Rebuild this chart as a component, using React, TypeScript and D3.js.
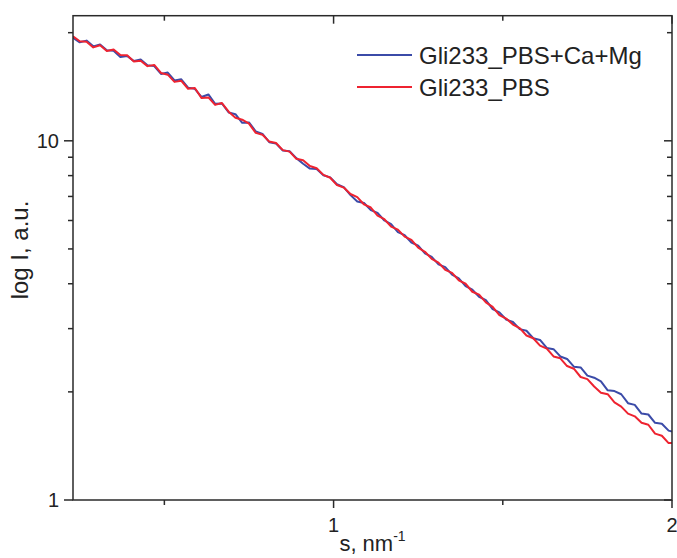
import * as d3 from "d3";

// scattering vector s, nm^-1
const sValues = [
  0.23, 0.25, 0.27, 0.29, 0.31, 0.33, 0.35, 0.37, 0.39, 0.41,
  0.43, 0.45, 0.47, 0.49, 0.51, 0.53, 0.55, 0.57, 0.59, 0.61,
  0.63, 0.65, 0.67, 0.69, 0.71, 0.73, 0.75, 0.77, 0.79, 0.81,
  0.83, 0.85, 0.87, 0.89, 0.91, 0.93, 0.95, 0.97, 0.99, 1.01,
  1.03, 1.05, 1.07, 1.09, 1.11, 1.13, 1.15, 1.17, 1.19, 1.21,
  1.23, 1.25, 1.27, 1.29, 1.31, 1.33, 1.35, 1.37, 1.39, 1.41,
  1.43, 1.45, 1.47, 1.49, 1.51, 1.53, 1.55, 1.57, 1.59, 1.61,
  1.63, 1.65, 1.67, 1.69, 1.71, 1.73, 1.75, 1.77, 1.79, 1.81,
  1.83, 1.85, 1.87, 1.89, 1.91, 1.93, 1.95, 1.97, 1.99, 2.0,
];

// Gli233_PBS+Ca+Mg
const caMgValues = [
  19.37, 18.8, 19.01, 18.32, 18.54, 17.87, 17.82, 17.1, 17.22, 16.67,
  16.83, 16.22, 16.14, 15.35, 15.49, 14.72, 14.83, 14.06, 13.96, 13.24,
  13.46, 12.68, 12.71, 11.99, 11.86, 11.22, 11.25, 10.62, 10.45, 9.91,
  9.82, 9.4, 9.35, 8.95, 8.63, 8.37, 8.35, 8.02, 7.91, 7.57,
  7.43, 7.06, 6.78, 6.71, 6.41, 6.3, 6.0, 5.86, 5.57, 5.46,
  5.21, 5.11, 4.86, 4.75, 4.53, 4.45, 4.24, 4.14, 3.94, 3.85,
  3.68, 3.6, 3.4, 3.33, 3.18, 3.13, 2.99, 2.96, 2.82, 2.79,
  2.65, 2.63, 2.51, 2.47, 2.35, 2.34, 2.22, 2.19, 2.14, 2.02,
  2.01, 1.97, 1.86, 1.84, 1.74, 1.73, 1.64, 1.63, 1.56, 1.55,
];

// Gli233_PBS
const pbsValues = [
  19.54, 18.93, 18.88, 18.2, 18.45, 17.78, 17.95, 17.34, 17.3, 16.63,
  16.71, 16.14, 16.26, 15.45, 15.28, 14.59, 14.69, 13.96, 14.03, 13.15,
  13.21, 12.59, 12.74, 12.05, 11.59, 11.45, 11.17, 10.52, 10.4, 9.95,
  9.86, 9.42, 9.33, 8.91, 8.83, 8.51, 8.39, 8.04, 7.89, 7.53,
  7.41, 7.11, 6.97, 6.65, 6.52, 6.19, 6.05, 5.77, 5.66, 5.41,
  5.3, 5.04, 4.91, 4.69, 4.58, 4.37, 4.29, 4.09, 4.0, 3.8,
  3.73, 3.55, 3.45, 3.27, 3.2, 3.08, 3.01, 2.87, 2.82, 2.69,
  2.64, 2.51, 2.48, 2.36, 2.32, 2.2, 2.17, 2.07, 1.99, 1.97,
  1.87, 1.82, 1.74, 1.71, 1.64, 1.62, 1.53, 1.51, 1.44, 1.44,
];

const seriesNames = ["Gli233_PBS+Ca+Mg", "Gli233_PBS"];
const seriesColors = ["#3b4ba8", "#ee2330"];

const xMajorTicks = [1, 2];
const xMinorTicks = [0.5, 1.5];
const yMajorTicks = [1, 10];
const yMinorTicks = [2, 3, 4, 5, 6, 7, 8, 9, 20];

const W = 677;
const H = 558;
const margin = { left: 73, right: 5, top: 15.7, bottom: 58 };
const axisColor = "#2a2a2a";
const font = "'Liberation Sans', Arial, sans-serif";

export default function App() {
  const x = d3
    .scaleLinear()
    .domain([0.23, 2.0])
    .range([margin.left, W - margin.right]);
  const y = d3
    .scaleLog()
    .domain([1, 22.3])
    .range([H - margin.bottom, margin.top]);

  const makeLine = d3
    .line<number>()
    .x((_, i) => x(sValues[i]))
    .y((d) => y(d));

  const series = [caMgValues, pbsValues];
  const x0 = x.range()[0];
  const x1 = x.range()[1];
  const y0 = y.range()[0];
  const y1 = y.range()[1];

  return (
    <svg
      width={W}
      height={H}
      style={{ position: "absolute", left: 0, top: 0, background: "#fff" }}
      fontFamily={font}
    >
      <defs>
        <clipPath id="plot">
          <rect x={x0} y={y1} width={x1 - x0} height={y0 - y1} />
        </clipPath>
      </defs>

      {/* curves */}
      <g clipPath="url(#plot)">
        {series.map((vals, i) => (
          <path
            key={i}
            d={makeLine(vals) ?? ""}
            fill="none"
            stroke={seriesColors[i]}
            strokeWidth={2}
            strokeLinejoin="round"
          />
        ))}
      </g>

      {/* frame */}
      <rect
        x={x0}
        y={y1}
        width={x1 - x0}
        height={y0 - y1}
        fill="none"
        stroke={axisColor}
        strokeWidth={1.5}
      />

      {/* x ticks */}
      {xMajorTicks.map((t) => (
        <g key={"xM" + t}>
          <line x1={x(t)} x2={x(t)} y1={y0} y2={y0 + 8} stroke={axisColor} strokeWidth={1.5} />
          <line x1={x(t)} x2={x(t)} y1={y1} y2={y1 + 8} stroke={axisColor} strokeWidth={1.5} />
          <text x={x(t)} y={y0 + 32} textAnchor="middle" fontSize={20} fill="#222">
            {t}
          </text>
        </g>
      ))}
      {xMinorTicks.map((t) => (
        <g key={"xm" + t}>
          <line x1={x(t)} x2={x(t)} y1={y0} y2={y0 + 5} stroke={axisColor} strokeWidth={1.5} />
          <line x1={x(t)} x2={x(t)} y1={y1} y2={y1 + 5} stroke={axisColor} strokeWidth={1.5} />
        </g>
      ))}

      {/* y ticks */}
      {yMajorTicks.map((t) => (
        <g key={"yM" + t}>
          <line x1={x0 - 9} x2={x0} y1={y(t)} y2={y(t)} stroke={axisColor} strokeWidth={1.5} />
          <line x1={x1} x2={x1 - 8} y1={y(t)} y2={y(t)} stroke={axisColor} strokeWidth={1.5} />
          <text x={x0 - 14} y={y(t) + 7} textAnchor="end" fontSize={20} fill="#222">
            {t}
          </text>
        </g>
      ))}
      {yMinorTicks.map((t) => (
        <g key={"ym" + t}>
          <line x1={x0 - 5} x2={x0} y1={y(t)} y2={y(t)} stroke={axisColor} strokeWidth={1.5} />
          <line x1={x1} x2={x1 - 5} y1={y(t)} y2={y(t)} stroke={axisColor} strokeWidth={1.5} />
        </g>
      ))}

      {/* axis titles */}
      <text
        transform={`translate(28, 250) rotate(-90)`}
        textAnchor="middle"
        fontSize={24}
        fill="#222"
      >
        log I, a.u.
      </text>
      <text x={(x0 + x1) / 2} y={551} textAnchor="middle" fontSize={22} fill="#222">
        s, nm
        <tspan dy={-10} fontSize={14}>
          -1
        </tspan>
      </text>

      {/* legend */}
      {seriesNames.map((name, i) => (
        <g key={name} transform={`translate(357, ${55 + i * 32})`}>
          <line x1={0} x2={55} y1={0} y2={0} stroke={seriesColors[i]} strokeWidth={2} />
          <text x={62} y={8.5} fontSize={24} fill="#222">
            {name}
          </text>
        </g>
      ))}
    </svg>
  );
}
